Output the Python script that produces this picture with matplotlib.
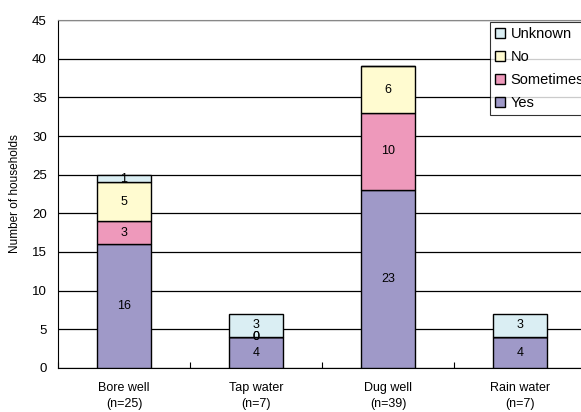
import matplotlib.pyplot as plt
import numpy as np

plt.rcParams['font.family'] = ['Liberation Sans', 'DejaVu Sans']

# Water source categories and household counts per response
sources = ['Bore well\n(n=25)', 'Tap water\n(n=7)', 'Dug well\n(n=39)', 'Rain water\n(n=7)']
yes = [16, 4, 23, 4]
sometimes = [3, 0, 10, 0]
no = [5, 0, 6, 0]
unknown = [1, 3, 0, 3]

series = [('Yes', yes, '#9f99c8'),
          ('Sometimes', sometimes, '#ee99bb'),
          ('No', no, '#fffbd0'),
          ('Unknown', unknown, '#daeef3')]

# labels printed inside each segment (blank where nothing is drawn)
show_label = {
    'Yes': [True, True, True, True],
    'Sometimes': [True, True, True, False],
    'No': [True, True, True, False],
    'Unknown': [True, True, False, True],
}

fig = plt.figure(figsize=(5.81, 4.12), dpi=100)
ax = fig.add_axes([58 / 581, 1 - 368 / 412, 528 / 581, 348 / 412])

x = np.arange(len(sources))
bottom = np.zeros(len(sources))
handles = []
for name, vals, color in series:
    vals = np.array(vals, dtype=float)
    bars = ax.bar(x, vals, width=0.41, bottom=bottom, color=color,
                  edgecolor='black', linewidth=1.0, zorder=3, label=name)
    handles.append(bars)
    for i, v in enumerate(vals):
        if show_label[name][i]:
            ax.text(x[i], bottom[i] + v / 2, f'{int(v)}', ha='center',
                    va='center', fontsize=9, zorder=4)
    bottom += vals

ax.set_xlim(-0.5, len(sources) - 0.5)
ax.set_ylim(0, 45)
ax.set_yticks(range(0, 46, 5))
ax.yaxis.grid(True, color='black', linewidth=0.9, zorder=0)
ax.set_axisbelow(True)

# category boundary ticks on the x axis
ax.set_xticks(np.arange(-0.5, len(sources), 1.0))
ax.set_xticklabels([])
ax.set_xticks(x, minor=True)
ax.set_xticklabels(sources, minor=True, fontsize=9, linespacing=1.45)
ax.tick_params(axis='x', which='minor', length=0, pad=10)
ax.tick_params(axis='x', which='major', length=4, direction='in')
ax.tick_params(axis='y', labelsize=9.5, length=0, pad=8)

ax.set_ylabel('Number of households', fontsize=8.5, labelpad=8)

for side in ['top', 'right']:
    ax.spines[side].set_color('#888888')
ax.spines['left'].set_color('black')
ax.spines['bottom'].set_color('black')

leg = ax.legend(handles[::-1], [s[0] for s in series][::-1],
                loc='upper left', bbox_to_anchor=(490 / 581, 1 - 22 / 412),
                bbox_transform=fig.transFigure, fontsize=10.5,
                frameon=True, fancybox=False, edgecolor='black',
                handlelength=0.7, handleheight=0.7, handletextpad=0.35,
                labelspacing=0.62, borderpad=0.35, borderaxespad=0)
leg.get_frame().set_linewidth(0.8)

fig.savefig('out.png', dpi=100)
